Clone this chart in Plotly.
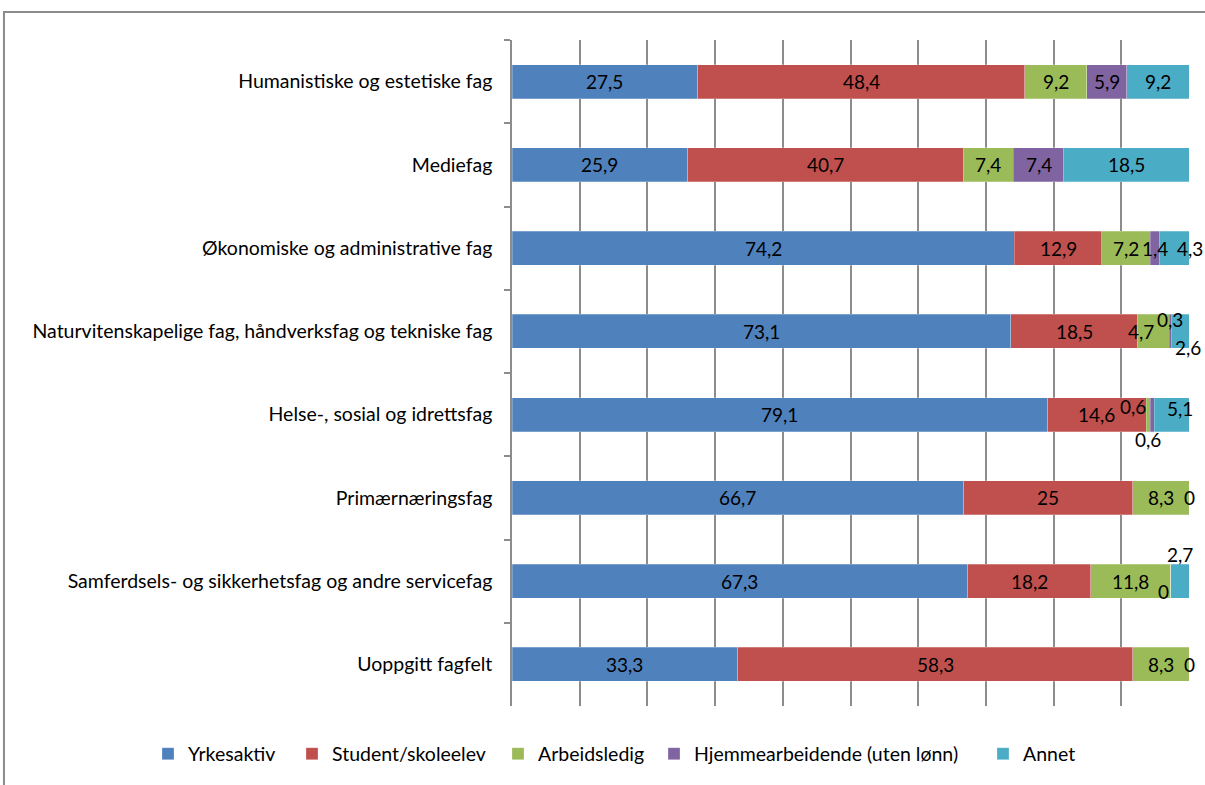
import plotly.graph_objects as go

categories = [
    "Humanistiske og estetiske fag",
    "Mediefag",
    "Økonomiske og administrative fag",
    "Naturvitenskapelige fag, håndverksfag og tekniske fag",
    "Helse-, sosial og idrettsfag",
    "Primærnæringsfag",
    "Samferdsels- og sikkerhetsfag og andre servicefag",
    "Uoppgitt fagfelt",
]

yrkesaktiv = [27.5, 25.9, 74.2, 73.1, 79.1, 66.7, 67.3, 33.3]
student = [48.4, 40.7, 12.9, 18.5, 14.6, 25, 18.2, 58.3]
arbeidsledig = [9.2, 7.4, 7.2, 4.7, 0.6, 8.3, 11.8, 8.3]
hjemme = [5.9, 7.4, 1.4, 0.3, 0.6, 0, 0, 0]
annet = [9.2, 18.5, 4.3, 2.6, 5.1, 0, 2.7, 0]

series_names = ["Yrkesaktiv", "Student/skoleelev", "Arbeidsledig",
                "Hjemmearbeidende (uten lønn)", "Annet"]
series_values = [yrkesaktiv, student, arbeidsledig, hjemme, annet]
colors = ["#4F81BD", "#C0504D", "#9BBB59", "#8064A2", "#4BACC6"]

# manually moved data labels (category index, series index) -> (xshift, yshift)
label_shift = {
    (2, 4): (16, 0),
    (3, 2): (-12, 0),
    (3, 3): (0, 12),
    (3, 4): (8, -16),
    (4, 2): (-15, 8),
    (4, 3): (-4, -25),
    (4, 4): (8, 6),
    (6, 3): (-7, -10),
    (6, 4): (0, 27),
}

# left pixel of each legend entry (one legend per series, spaced like the original)
legend_px = [148, 292, 498, 654, 983]

FONT = "Lato"
PLOT_L, PLOT_W = 512, 677

fig = go.Figure()
legends = {}
for k, (name, vals, col) in enumerate(zip(series_names, series_values, colors)):
    lname = "legend" if k == 0 else "legend%d" % (k + 1)
    fig.add_trace(go.Bar(
        y=categories, x=vals, name=name, orientation="h", legend=lname,
        showlegend=True,
        marker=dict(color=col, line=dict(color="rgba(255,255,255,0.5)", width=0.5)),
    ))
    legends[lname] = dict(orientation="h", x=(legend_px[k] - PLOT_L) / PLOT_W,
                          xanchor="left", y=-0.072, yanchor="middle",
                          font=dict(family=FONT, size=19.5))

annotations = []
for i, cat in enumerate(categories):
    row = [s[i] for s in series_values]
    total = sum(row)
    start = 0
    drawn = set()
    for j, v in enumerate(row):
        pct = v / total * 100
        dx, dy = label_shift.get((i, j), (0, 0))
        txt = ("%g" % v).replace(".", ",")
        key = (round(start + pct / 2, 3), dx, dy, txt)
        start += pct
        if key in drawn:  # two zero labels on the same spot
            continue
        drawn.add(key)
        annotations.append(dict(
            x=key[0], y=cat, xref="x", yref="y",
            text=txt, showarrow=False, xshift=dx, yshift=dy,
            font=dict(family=FONT, size=19, color="black"),
        ))

fig.update_layout(
    width=1205, height=785,
    margin=dict(l=PLOT_L, r=16, t=40, b=77),
    showlegend=True,
    barmode="stack", barnorm="percent", bargap=0.59,
    plot_bgcolor="white", paper_bgcolor="white",
    font=dict(family=FONT, size=19.5, color="black"),
    annotations=annotations,
    xaxis=dict(range=[0, 100], dtick=10, showticklabels=False, showgrid=True,
               gridcolor="#8C8C8C", gridwidth=1.5, zeroline=False, showline=False),
    yaxis=dict(autorange="reversed", showline=True, linecolor="#8C8C8C", linewidth=1.5,
               ticks="outside", ticklen=6, tickcolor="#8C8C8C", tickwidth=1.5,
               tickson="boundaries", ticklabelstandoff=14, showgrid=False),
    shapes=[
        dict(type="path", xref="paper", yref="paper",
             path="M -0.7504,-0.2 L -0.7504,1.0419 L 1.1,1.0419",
             line=dict(color="#8C8C8C", width=2)),
    ],
    **legends,
)

fig.write_html("out.html", config={"displayModeBar": False},
               post_script="document.body.style.margin='0';")
